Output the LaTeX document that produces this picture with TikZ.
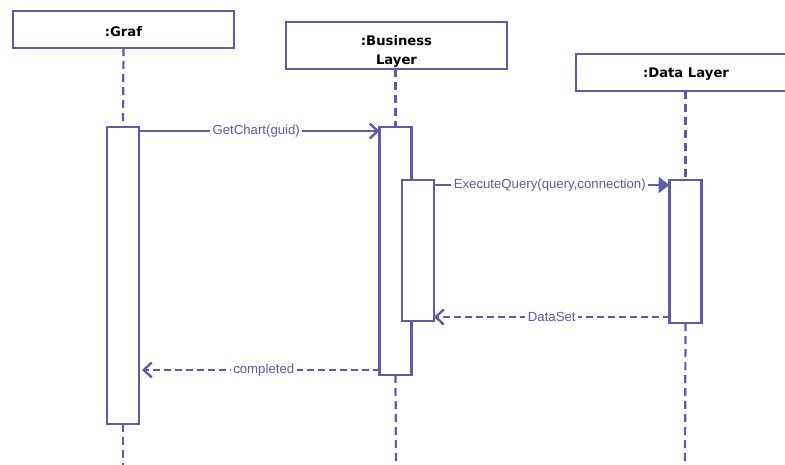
\documentclass[tikz,border=0pt]{standalone}
\usepackage{fontspec}
\setmainfont{Liberation Sans}
\newfontfamily\titlefont{DejaVu Sans}
\usetikzlibrary{arrows.meta,calc}
\definecolor{uml}{RGB}{95,90,170}
\begin{document}
\begin{tikzpicture}[x=1pt,y=-1pt,
  objbox/.style={draw=uml,line width=2.2pt,fill=white,inner sep=0pt,outer sep=0pt},
  objtitle/.style={font=\titlefont\fontsize{13.2}{19}\selectfont\bfseries,align=center,inner sep=0pt},
  actbox/.style={draw=uml,line width=2.2pt,fill=white,inner sep=0pt,outer sep=0pt,minimum width=32pt},
  lifeline/.style={draw=uml,line width=2.2pt,dash pattern=on 8pt off 5pt},
  callmsg/.style={draw=uml,line width=2pt},
  retmsg/.style={draw=uml,line width=2pt,dash pattern=on 7pt off 4pt},
  openhead/.style={-{Straight Barb[length=8pt,width=15pt,line width=2.4pt]}},
  fullhead/.style={-{Triangle[length=11pt,width=16pt]}},
  msglabel/.style={fill=white,text=uml,inner sep=2.5pt,font=\fontsize{13.2}{15}\selectfont}]
\useasboundingbox (0,0) rectangle (785,464);

% object boxes
\node[objbox,minimum width=221pt,minimum height=37pt] (graf) at (123.5,29.5) {};
\node[objbox,minimum width=221pt,minimum height=47pt] (bus) at (396.5,45.5) {};
\node[objbox,minimum width=220pt,minimum height=37pt] (data) at (686,72.5) {};
\node[objtitle] (grafT) at ($(graf.center)+(0,2.5)$) {:Graf};
\node[objtitle] (busT) at ($(bus.center)+(0,6)$) {:Business\\Layer};
\node[objtitle] (dataT) at ($(data.center)+(0,2)$) {:Data Layer};

% activation bars
\node[actbox,minimum height=297pt] (ga) at (123,275.5) {};
\node[actbox,minimum height=248pt] (ba) at (395.5,251) {};
\node[actbox,minimum height=141pt] (bb) at (418,250.5) {};
\node[actbox,minimum height=143pt] (da) at (685.5,251.5) {};

% lifeline ends
\coordinate (gend) at (123,470);
\coordinate (bend) at (396,470);
\coordinate (dend) at (685,470);

% lifelines
\draw[lifeline] (graf.south) -- (ga.north);
\draw[lifeline] (ga.south) -- (gend);
\draw[lifeline] (bus.south -| ba.north) -- (ba.north);
\draw[lifeline] (ba.south) -- (bend);
\draw[lifeline] (data.south -| da.north) -- (da.north);
\draw[lifeline] (da.south) -- (dend);
\node[actbox,minimum height=141pt] at (bb) {};

% messages
\coordinate (m1s) at ($(ga.north east)+(0,4)$);
\draw[callmsg,openhead] (m1s) -- node[msglabel,xshift=-3pt]{GetChart(guid)} (ba.west |- m1s);

\coordinate (m2s) at ($(bb.north east)+(0,5)$);
\draw[callmsg,fullhead] (m2s) -- node[msglabel,xshift=-2pt]{ExecuteQuery(query,connection)} (da.west |- m2s);

\coordinate (m3s) at ($(da.south west)+(0,-6)$);
\draw[retmsg,openhead] (m3s) -- node[msglabel]{DataSet} (bb.east |- m3s);

\coordinate (m4s) at ($(ba.south west)+(0,-5)$);
\draw[retmsg,openhead] (m4s) -- node[msglabel,xshift=3pt]{completed} ($(ga.east |- m4s)+(3,0)$);
\end{tikzpicture}
\end{document}
